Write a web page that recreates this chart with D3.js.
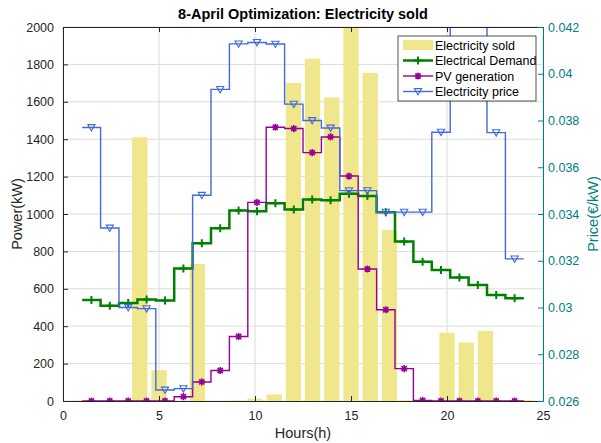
<!DOCTYPE html>
<html>

<head>
  <meta charset="utf-8">
  <title>8-April Optimization</title>
  <style>
    body {
      margin: 0;
      background: #fff;
    }

    svg text {
      font-family: "Liberation Sans", Arial, sans-serif;
    }

    .grid line {
      stroke: #dcdcdc;
      stroke-width: 1;
    }
  </style>
</head>

<body>
  <svg></svg>
  <script src="https://cdnjs.cloudflare.com/ajax/libs/d3/7.8.5/d3.min.js"></script>
  <script>
    var width = 601,
      height = 443;

    // hourly values
    var hours = [1, 2, 3, 4, 5, 6, 7, 8, 9, 10, 11, 12, 13, 14, 15, 16, 17, 18, 19, 20, 21, 22, 23, 24];
    var sold = [4, 0, 0, 1410, 165, 0, 733, 0, 3, 12, 35, 1700, 1830, 1623, 2060, 1755, 915, 5, 0, 365, 313, 375, 0, 5];
    var demand = [540, 509, 524, 543, 538, 708, 843, 924, 1019, 1015, 1058, 1024, 1078, 1074, 1108, 1096, 1010, 853, 745, 701, 661, 620, 567, 549];
    var pv = [0, 0, 0, 0, 0, 23, 102, 163, 345, 1062, 1464, 1457, 1328, 1412, 1203, 706, 488, 173, 3, 0, 0, 0, 0, 0];
    var price = [0.0377, 0.0334, 0.0300, 0.02995, 0.02647, 0.02653, 0.0348, 0.03933, 0.04128, 0.04134, 0.04127, 0.0387,
      0.0380, 0.03768, 0.0350, 0.0350, 0.03408, 0.03408, 0.03408, 0.0375, 0.0430, 0.0430, 0.03748, 0.03208];

    var xTicks = [0, 5, 10, 15, 20, 25];
    var powerTicks = [0, 200, 400, 600, 800, 1000, 1200, 1400, 1600, 1800, 2000];
    var priceTicks = [0.026, 0.028, 0.03, 0.032, 0.034, 0.036, 0.038, 0.04, 0.042];
    var legendNames = ["Electricity sold", "Electrical Demand", "PV generation", "Electricity price"];

    var pLeft = 63, pRight = 543, pTop = 27, pBottom = 401;
    var axisColor = "#262626", teal = "#008080";
    var barColor = "#f0e68c", green = "#008000", purple = "#960096", blue = "#4169e1";

    var svg = d3.select("svg").attr("width", width).attr("height", height);

    var x = d3.scaleLinear().domain([0, 25]).range([pLeft, pRight]);
    var yL = d3.scaleLinear().domain([0, 2000]).range([pBottom, pTop]);
    var yR = d3.scaleLinear().domain([0.026, 0.042]).range([pBottom, pTop]);
    // stairs span hour 1 to hour 24 in 24 equal steps
    var stepX = d3.scaleLinear().domain([0, hours.length]).range([hours[0], hours[hours.length - 1]]);

    svg.append("defs").append("clipPath").attr("id", "plot")
      .append("rect").attr("x", pLeft).attr("y", pTop).attr("width", pRight - pLeft).attr("height", pBottom - pTop);

    // grid
    var grid = svg.append("g").attr("class", "grid");
    grid.selectAll(".gx").data(xTicks).enter().append("line")
      .attr("x1", d => x(d)).attr("x2", d => x(d)).attr("y1", pTop).attr("y2", pBottom);
    grid.selectAll(".gy").data(powerTicks).enter().append("line")
      .attr("x1", pLeft).attr("x2", pRight).attr("y1", d => yL(d)).attr("y2", d => yL(d));

    var plot = svg.append("g").attr("clip-path", "url(#plot)");

    // bars
    var bw = x(0.8) - x(0);
    plot.selectAll(".bar").data(hours).enter().append("rect")
      .attr("x", (d, i) => x(d) - bw / 2)
      .attr("width", bw)
      .attr("y", (d, i) => yL(sold[i]))
      .attr("height", (d, i) => yL(0) - yL(sold[i]))
      .style("fill", barColor);

    function stairs(vals, yScale) {
      var pts = vals.map((v, i) => [x(stepX(i)), yScale(v)]);
      pts.push([x(stepX(vals.length)), yScale(vals[vals.length - 1])]);
      return d3.line().curve(d3.curveStepAfter)(pts);
    }

    function plusPath(s) {
      return "M" + (-s) + ",0H" + s + "M0," + (-s) + "V" + s;
    }
    function starPath(s) {
      var d = s * 0.72;
      return plusPath(s) + "M" + (-d) + "," + (-d) + "L" + d + "," + d + "M" + (-d) + "," + d + "L" + d + "," + (-d);
    }
    function triPath(s) {
      return "M" + (-s) + "," + (-s * 0.8) + "H" + s + "L0," + (s * 0.95) + "Z";
    }

    var series = [
      { vals: demand, scale: yL, color: green, lw: 2.5, marker: plusPath(4), mw: 2, fill: "none" },
      { vals: pv, scale: yL, color: purple, lw: 1.4, marker: starPath(3.6), mw: 1.6, fill: purple },
      { vals: price, scale: yR, color: blue, lw: 1.4, marker: triPath(3.6), mw: 1.1, fill: "none" }
    ];

    series.forEach(function (s) {
      plot.append("path")
        .attr("d", stairs(s.vals, s.scale))
        .style("fill", "none")
        .style("stroke", s.color)
        .style("stroke-width", s.lw);
      plot.selectAll(null).data(s.vals).enter().append("path")
        .attr("transform", (d, i) => "translate(" + x(stepX(i + 0.5)) + "," + s.scale(d) + ")")
        .attr("d", s.marker)
        .style("fill", s.fill)
        .style("stroke", s.color)
        .style("stroke-width", s.mw);
    });

    // axes
    var ax = svg.append("g").attr("transform", "translate(0," + pBottom + ")")
      .call(d3.axisBottom(x).tickValues(xTicks).tickSize(-5).tickSizeOuter(0).tickPadding(10));
    var axTop = svg.append("g").attr("transform", "translate(0," + pTop + ")")
      .call(d3.axisTop(x).tickValues(xTicks).tickSize(-5).tickSizeOuter(0).tickFormat(""));
    var ayL = svg.append("g").attr("transform", "translate(" + pLeft + ",0)")
      .call(d3.axisLeft(yL).tickValues(powerTicks).tickSize(-5).tickSizeOuter(0).tickPadding(9).tickFormat(d => String(d)));
    var ayR = svg.append("g").attr("transform", "translate(" + pRight + ",0)")
      .call(d3.axisRight(yR).tickValues(priceTicks).tickSize(-5).tickSizeOuter(0).tickPadding(5).tickFormat(d => String(d)));

    [ax, axTop, ayL].forEach(function (g) {
      g.selectAll("path, line").style("stroke", axisColor);
      g.selectAll("text").style("fill", axisColor).style("font-size", "12.5px");
    });
    ayR.selectAll("path, line").style("stroke", teal);
    ayR.selectAll("text").style("fill", teal).style("font-size", "12.5px");

    // titles
    svg.append("text").attr("x", (pLeft + pRight) / 2).attr("y", 19)
      .attr("text-anchor", "middle").style("font-weight", "bold").style("font-size", "14.5px")
      .style("fill", "#000").text("8-April Optimization: Electricity sold");
    svg.append("text").attr("x", (pLeft + pRight) / 2).attr("y", 438)
      .attr("text-anchor", "middle").style("font-size", "14.5px").style("fill", axisColor).text("Hours(h)");
    svg.append("text").attr("transform", "translate(22," + (pTop + pBottom) / 2 + ") rotate(-90)")
      .attr("text-anchor", "middle").style("font-size", "14.5px").style("fill", axisColor).text("Power(kW)");
    svg.append("text").attr("transform", "translate(598," + (pTop + pBottom) / 2 + ") rotate(-90)")
      .attr("text-anchor", "middle").style("font-size", "14.5px").style("fill", teal).text("Price(€/kW)");

    // legend
    var lg = svg.append("g").attr("transform", "translate(398,36)");
    lg.append("rect").attr("width", 138).attr("height", 65)
      .style("fill", "#fff").style("stroke", axisColor).style("stroke-width", 0.8);
    var rows = lg.selectAll(".row").data(legendNames).enter().append("g")
      .attr("transform", (d, i) => "translate(0," + (9 + i * 15.5) + ")");
    rows.append("text").attr("x", 37).attr("y", 4.5).style("font-size", "12.5px").style("fill", "#000").text(d => d);
    rows.filter((d, i) => i === 0).append("rect")
      .attr("x", 5).attr("y", -5).attr("width", 30).attr("height", 10).style("fill", barColor);
    rows.filter((d, i) => i > 0).each(function (d, i) {
      var s = series[i], g = d3.select(this);
      g.append("line").attr("x1", 5).attr("x2", 35)
        .style("stroke", s.color).style("stroke-width", s.lw);
      g.append("path").attr("transform", "translate(20,0)").attr("d", s.marker)
        .style("fill", s.fill).style("stroke", s.color).style("stroke-width", s.mw);
    });
  </script>
</body>

</html>
